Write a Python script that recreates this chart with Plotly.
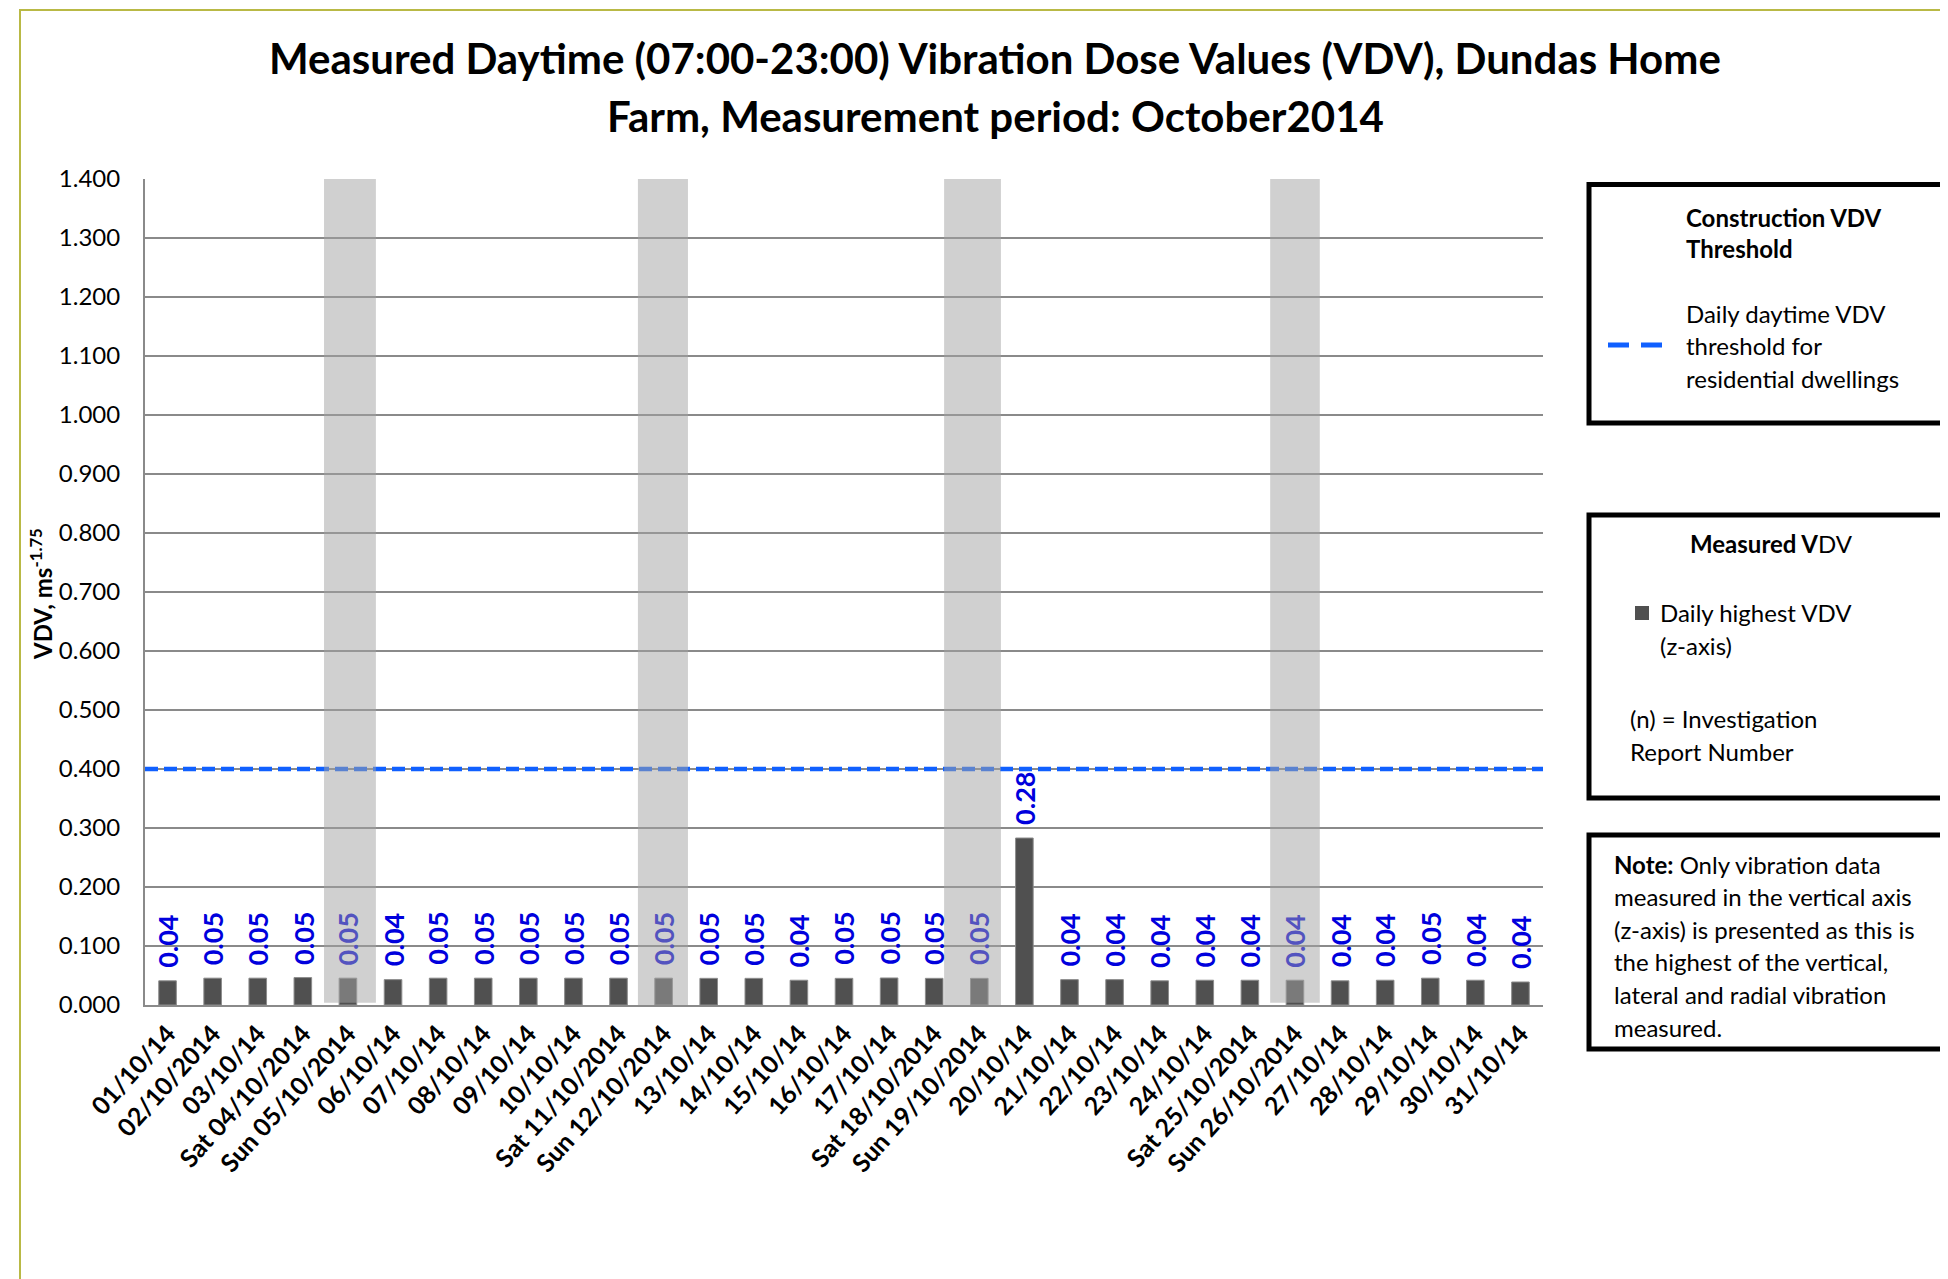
import plotly.graph_objects as go

# ---------------- data ----------------
dates = ["01/10/14", "02/10/2014", "03/10/14", "Sat 04/10/2014", "Sun 05/10/2014",
         "06/10/14", "07/10/14", "08/10/14", "09/10/14", "10/10/14",
         "Sat 11/10/2014", "Sun 12/10/2014", "13/10/14", "14/10/14", "15/10/14",
         "16/10/14", "17/10/14", "Sat 18/10/2014", "Sun 19/10/2014", "20/10/14",
         "21/10/14", "22/10/14", "23/10/14", "24/10/14", "Sat 25/10/2014",
         "Sun 26/10/2014", "27/10/14", "28/10/14", "29/10/14", "30/10/14", "31/10/14"]
vdv = [0.041, 0.0455, 0.0455, 0.0465, 0.0455,
       0.043, 0.0455, 0.0455, 0.0455, 0.0455,
       0.0455, 0.0455, 0.0452, 0.0452, 0.042,
       0.0452, 0.0458, 0.0452, 0.0452, 0.283,
       0.043, 0.043, 0.041, 0.042, 0.042,
       0.042, 0.041, 0.042, 0.0455, 0.042, 0.039]
threshold = 0.4
sundays = ["Sun 05/10/2014", "Sun 12/10/2014", "Sun 19/10/2014", "Sun 26/10/2014"]

# ---------------- styling / geometry ----------------
FONT = "Lato, sans-serif"
OFF = 8                      # page body margin
W, H = 1948 - OFF, 1279 - OFF
L, R, T, B = 145, 1543, 179, 1005   # plot area in reference pixels
PW, PH = R - L, B - T

def px2x(p):
    return (p - L) / PW

def py2y(p):
    return (B - p) / PH

BAR_COL = "#505050"
GRID_COL = "#8a8a8a"
LABEL_COL = (0, 0, 221)
BAND_RGB = 163
BAND_A = 0.51
DASH_COL = "#1060ff"
# band extents around each Sunday (category units) and bottom offset
band_geom = {
    "Sun 05/10/2014": (-0.53, 0.62, 0.004),
    "Sun 12/10/2014": (-0.57, 0.54, 0.0),
    "Sun 19/10/2014": (-0.78, 0.48, 0.0),
    "Sun 26/10/2014": (-0.55, 0.55, 0.004),
}

def blend(rgb):
    return "rgb(%d,%d,%d)" % tuple(round(c * (1 - BAND_A) + BAND_RGB * BAND_A) for c in rgb)

fig = go.Figure()
fig.add_trace(go.Bar(
    x=dates, y=vdv,
    marker=dict(color=BAR_COL, line=dict(color="#8c8c8c", width=1)),
    showlegend=False, hoverinfo="x+y",
))

shapes = []
annotations = []

# threshold line
shapes.append(dict(type="line", xref="paper", yref="y", x0=0, x1=1, y0=threshold, y1=threshold,
                   line=dict(color=DASH_COL, width=4.5, dash="13px,6px"), layer="above"))

# weekend bands
for s in sundays:
    i = dates.index(s)
    a, b, y0 = band_geom[s]
    shapes.append(dict(type="rect", xref="x", yref="y", x0=i + a, x1=i + b, y0=y0, y1=1.403,
                       fillcolor="rgba(%d,%d,%d,%.2f)" % (BAND_RGB, BAND_RGB, BAND_RGB, BAND_A),
                       line=dict(width=0), layer="above"))

# data labels
for i, (d, v) in enumerate(zip(dates, vdv)):
    col = blend(LABEL_COL) if d in sundays else "rgb(%d,%d,%d)" % LABEL_COL
    annotations.append(dict(x=d, y=v, xref="x", yref="y", text="%.2f" % v, textangle=-90,
                            showarrow=False, yanchor="bottom", xanchor="center", yshift=11,
                            font=dict(family=FONT, size=27, color=col, weight="bold")))

# title
annotations.append(dict(xref="paper", yref="paper", x=px2x(995), y=py2y(58), showarrow=False,
                        text="<b>Measured Daytime (07:00-23:00) Vibration Dose Values (VDV), Dundas Home</b>",
                        font=dict(family=FONT, size=42, color="black"), xanchor="center", yanchor="middle"))
annotations.append(dict(xref="paper", yref="paper", x=px2x(995), y=py2y(116), showarrow=False,
                        text="<b>Farm, Measurement period: October2014</b>",
                        font=dict(family=FONT, size=42, color="black"), xanchor="center", yanchor="middle"))

# y-axis title
annotations.append(dict(xref="paper", yref="paper", x=px2x(41), y=py2y(594), showarrow=False,
                        text="<b>VDV, ms<sup>-1.75</sup></b>", textangle=-90,
                        font=dict(family=FONT, size=24, color="black"), xanchor="center", yanchor="middle"))

# outer chart border (left & top visible)
shapes.append(dict(type="rect", xref="paper", yref="paper", x0=px2x(20), x1=px2x(2100),
                   y0=py2y(1400), y1=py2y(10), line=dict(color="#b9b945", width=2),
                   fillcolor="rgba(0,0,0,0)", layer="below"))

# legend boxes
for (yt, yb) in [(184.5, 423), (515, 798), (835, 1049)]:
    shapes.append(dict(type="rect", xref="paper", yref="paper", x0=px2x(1589), x1=px2x(2100),
                       y0=py2y(yb), y1=py2y(yt), line=dict(color="black", width=5),
                       fillcolor="white", layer="above"))

def txt(px, py, text, anchor="left", size=24):
    annotations.append(dict(xref="paper", yref="paper", x=px2x(px), y=py2y(py), text=text,
                            showarrow=False, xanchor=anchor, yanchor="middle",
                            font=dict(family=FONT, size=size, color="black")))

# box 1
txt(1684, 217, "<b>Construction VDV</b>")
txt(1684, 248, "<b>Threshold</b>")
txt(1684, 313, "Daily daytime VDV")
txt(1684, 345, "threshold for")
txt(1684, 378, "residential dwellings")
shapes.append(dict(type="line", xref="paper", yref="paper", x0=px2x(1608), x1=px2x(1662),
                   y0=py2y(345), y1=py2y(345), line=dict(color=DASH_COL, width=5, dash="21px,12px"),
                   layer="above"))
# box 2
txt(1771, 543, "<b>Measured V</b>DV", anchor="center")
shapes.append(dict(type="rect", xref="paper", yref="paper", x0=px2x(1635), x1=px2x(1649),
                   y0=py2y(620), y1=py2y(606), fillcolor=BAR_COL, line=dict(width=0), layer="above"))
txt(1658, 612, "Daily highest VDV")
txt(1658, 645, "(z-axis)")
txt(1628, 718, "(n) = Investigation")
txt(1628, 751, "Report Number")
# box 3
note_lines = ["<b>Note:</b> Only vibration data", "measured in the vertical axis",
              "(z-axis) is presented as this is", "the highest of the vertical,",
              "lateral and radial vibration", "measured."]
for k, ln in enumerate(note_lines):
    txt(1612, 864 + k * 32.6, ln)

fig.update_layout(
    width=W, height=H,
    margin=dict(l=L - OFF, r=W - (R - OFF), t=T - OFF, b=H - (B - OFF), pad=0),
    paper_bgcolor="white", plot_bgcolor="white",
    bargap=0.61,
    shapes=shapes, annotations=annotations,
    font=dict(family=FONT, color="black"),
    xaxis=dict(type="category", categoryorder="array", categoryarray=dates,
               range=[-0.5, len(dates) - 0.5], tickangle=-48, showgrid=False,
               showline=True, linecolor=GRID_COL, linewidth=2, ticks="",
               tickfont=dict(family=FONT, size=25, color="black", weight="bold"),
               ticklabelstandoff=2),
    yaxis=dict(range=[0, 1.4], dtick=0.1, tick0=0, tickformat=".3f", showgrid=True,
               gridcolor=GRID_COL, gridwidth=1.6, zeroline=False, showline=True,
               linecolor=GRID_COL, linewidth=2, ticks="",
               tickfont=dict(family=FONT, size=24, color="black"), ticklabelstandoff=18),
)

fig.write_html("out.html")
